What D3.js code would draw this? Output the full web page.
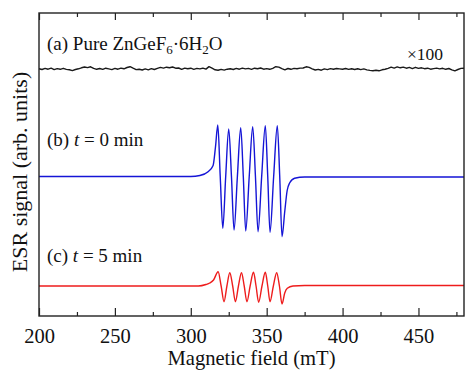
<!DOCTYPE html>
<html>
<head>
<meta charset="utf-8">
<script src="https://d3js.org/d3.v7.min.js"></script>
<style>
  body { margin: 0; background: #fff; }
  svg text { font-family: "Liberation Serif", "Times New Roman", serif; fill: #111; }
</style>
</head>
<body>
<div id="chart"></div>
<script>
// x axis
const fieldTicks = [200, 250, 300, 350, 400, 450];
const fieldMinor = [225, 275, 325, 375, 425, 475];

// (a) pure ZnGeF6.6H2O, x100, noise read every 2 mT from 200 to 480
const noiseSignal = [
  0.3, -0.5, 0.6, -0.2, 0.8, -0.6, 0.4, -0.3, 0.7, -0.4,
  -0.8, -1.6, -0.5, 0.2, 1.2, 2.0, 1.4, 2.2, 0.6, -0.3,
  0.5, -0.4, 0.8, 0.1, -0.6, 0.6, -0.2, 0.9, 0.2, 1.5,
  2.3, 0.8, -0.6, -0.2, -1.0, 0.1, -0.8, 0.4, -0.5, 0.6,
  1.6, 0.9, 1.8, 1.2, 2.0, 0.8, 1.0, -0.4, 0.9, 0.2,
  0.8, -0.3, 0.6, 0.1, 0.9, -0.1, 2.4, 0.8, -0.8, -1.2,
  -0.4, -1.1, -0.2, 0.3, -0.5, 0.6, -0.2, 0.9, 0.1, 0.6,
  -0.3, 0.8, 0.2, 1.0, -0.2, 0.4, -0.3, 0.7, 2.3, 1.9,
  0.3, -0.8, 0.5, -0.3, 0.6, 0.2, 0.9, 1.0, 2.2, 1.6,
  0.2, -1.0, -0.4, -1.2, 0.1, -0.6, 0.4, -0.2, 0.5, 0.1,
  -0.3, 0.5, -0.4, 0.3, -0.5, 0.2, -0.6, 0.1, -0.9, -1.4,
  -1.7, -1.2, -1.8, -0.8, -0.2, 0.6, 1.8, 0.9, 2.1, 1.2,
  1.9, 0.8, 1.6, 0.4, 1.7, 0.6, 1.2, 0.3, 0.8, -0.2,
  0.4, 0.9, 0.1, 0.7, -0.3, 0.5, -0.8, -1.8, -0.5, 0.6,
  0.8
];
const noiseField = d3.range(200, 481, 2);

// (b) t = 0 min
const blueField = [200, 300, 306, 311.4, 314.7, 316.3, 317.8, 319.4, 321.1, 323, 325, 326.8, 328.5, 330.7,
  332.9, 334.6, 336.2, 338.5, 340.8, 342.6, 344.3, 346.7, 349.1, 350.7, 352.2, 354.6, 357.0, 358.6,
  360.1, 361.9, 363.5, 365.1, 368.4, 375, 480];
const blueSignal = [0, 0, 1, 4.8, 11, 30, 51.5, 0, -51.8, 0, 47.5, 0, -53.5, 0,
  48.8, 0, -54.5, 0, 49.8, 0, -55.2, 0, 50.8, 0, -55.8, 0, 50.8, 0,
  -60.2, -35, -14, -6.5, -1.8, -0.5, -0.5];

// (c) t = 5 min
const redField = [200, 305, 310, 312.5, 315, 318.0, 320.0, 321.9, 323.8, 325.7, 327.6, 329.4, 331.4,
  333.4, 335.2, 337.0, 339.1, 341.3, 343.0, 344.7, 346.9, 349.1, 350.7, 352.2, 354.4, 356.6, 358.4,
  360.1, 361.9, 363.6, 367.3, 375, 480];
const redSignal = [0, 0, 1.5, 3, 6, 14.3, 0, -15.7, 0, 13.3, 0, -15.7, 0,
  13.3, 0, -15.7, 0, 13.7, 0, -16.3, 0, 13.7, 0, -15.7, 0, 13.3, 0,
  -18, -7, -2.3, 0, 0.5, 0.5];

// vertical offsets of the three traces
const offsets = [247, 139.5, 30];

const width = 470, height = 370;
const margin = {top: 13, right: 6, bottom: 54, left: 39};

const x = d3.scaleLinear().domain([200, 480]).range([margin.left, width - margin.right]);
const y = d3.scaleLinear().domain([0, 303]).range([height - margin.bottom, margin.top]);

const svg = d3.select("#chart").append("svg")
    .attr("width", width)
    .attr("height", height);

function trace(fields, values, offset, color, curve) {
    const pts = fields.map((f, i) => [f, values[i] + offset]);
    svg.append("path")
        .datum(pts)
        .attr("fill", "none")
        .attr("stroke", color)
        .attr("stroke-width", 1.4)
        .attr("stroke-linejoin", "round")
        .attr("d", d3.line().x(d => x(d[0])).y(d => y(d[1])).curve(curve));
}

trace(noiseField, noiseSignal, offsets[0], "#1a1a1a", d3.curveLinear);
trace(blueField, blueSignal, offsets[1], "#1515d6", d3.curveMonotoneX);
trace(redField, redSignal, offsets[2], "#ee1c1c", d3.curveMonotoneX);

// axes: ticks inside, top and bottom
const yb = height - margin.bottom, yt = margin.top;
svg.append("g")
    .attr("transform", "translate(0," + yb + ")")
    .call(d3.axisBottom(x).tickValues(fieldTicks).tickSize(-8).tickPadding(12).tickFormat(d3.format("d")))
    .call(g => g.select(".domain").remove())
    .call(g => g.selectAll("text").style("font-size", "20.5px"));
svg.append("g")
    .attr("transform", "translate(0," + yb + ")")
    .call(d3.axisBottom(x).tickValues(fieldMinor).tickSize(-4).tickFormat(""))
    .call(g => g.select(".domain").remove());
svg.append("g")
    .attr("transform", "translate(0," + yt + ")")
    .call(d3.axisTop(x).tickValues(fieldTicks).tickSize(-7).tickFormat(""))
    .call(g => g.select(".domain").remove());
svg.append("g")
    .attr("transform", "translate(0," + yt + ")")
    .call(d3.axisTop(x).tickValues(fieldMinor).tickSize(-4).tickFormat(""))
    .call(g => g.select(".domain").remove());
svg.selectAll(".tick line").attr("stroke", "#222").attr("stroke-width", 1.2);

svg.append("rect")
    .attr("x", margin.left)
    .attr("y", margin.top)
    .attr("width", width - margin.left - margin.right)
    .attr("height", height - margin.top - margin.bottom)
    .attr("fill", "none")
    .attr("stroke", "#222")
    .attr("stroke-width", 1.4);

// labels
const la = svg.append("text").attr("x", 47).attr("y", 50).style("font-size", "19px");
la.append("tspan").text("(a) Pure ZnGeF");
la.append("tspan").attr("dy", 4).style("font-size", "13px").text("6");
la.append("tspan").attr("dy", -4).text("\u00b76H");
la.append("tspan").attr("dy", 4).style("font-size", "13px").text("2");
la.append("tspan").attr("dy", -4).text("O");

svg.append("text").attr("x", 443).attr("y", 60)
    .style("text-anchor", "end").style("font-size", "17.5px").text("\u00d7100");

const lb = svg.append("text").attr("x", 47).attr("y", 146).style("font-size", "19px");
lb.append("tspan").text("(b) ");
lb.append("tspan").style("font-style", "italic").text("t");
lb.append("tspan").text(" = 0 min");

const lc = svg.append("text").attr("x", 47).attr("y", 262).style("font-size", "19px");
lc.append("tspan").text("(c) ");
lc.append("tspan").style("font-style", "italic").text("t");
lc.append("tspan").text(" = 5 min");

svg.append("text")
    .attr("transform", "translate(27,172) rotate(-90)")
    .style("text-anchor", "middle")
    .style("font-size", "22px")
    .text("ESR signal (arb. units)");

svg.append("text")
    .attr("x", (margin.left + width - margin.right) / 2)
    .attr("y", 365)
    .style("text-anchor", "middle")
    .style("font-size", "20.6px")
    .text("Magnetic field (mT)");
</script>
</body>
</html>
